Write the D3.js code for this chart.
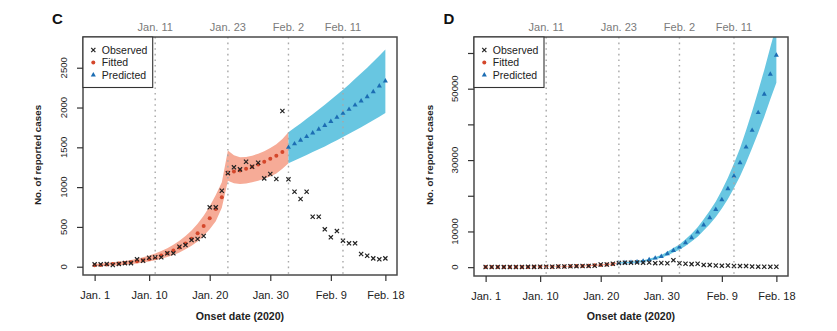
<!DOCTYPE html>
<html>
<head>
<meta charset="utf-8">
<script src="https://cdn.jsdelivr.net/npm/d3@7"></script>
<style>
  body { margin: 0; background: #fff; }
  svg text { font-family: "Liberation Sans", Arial, sans-serif; }
</style>
</head>
<body>
<svg id="chart" width="837" height="331"></svg>
<script>
// x axis: day index from Jan. 1 (0) to Feb. 18 (48)
const xTickDays = [0, 9, 19, 29, 39, 48]
const xTickLabels = ['Jan. 1', 'Jan. 10', 'Jan. 20', 'Jan. 30', 'Feb. 9', 'Feb. 18']
const markDays = [10, 22, 32, 41]
const markLabels = ['Jan. 11', 'Jan. 23', 'Feb. 2', 'Feb. 11']

// observed daily onsets, Jan. 1 .. Feb. 18
const observed = [30, 30, 35, 21, 35, 45, 45, 93, 75, 113, 118, 118, 168, 168, 251, 272, 335, 348, 386, 746,
  746, 955, 1175, 1249, 1223, 1319, 1256, 1306, 1110, 1165, 1102, 1956, 1098, 942, 851, 942, 628, 628, 470, 369,
  448, 327, 294, 294, 160, 138, 105, 93, 105]

// panel C: fitted (from day 0) and predicted (from day 32)
const fittedC = [19, 23, 27, 33, 39, 47, 56, 68, 81, 98, 117, 141, 169, 203, 243, 292, 350, 420, 511, 610,
  725, 872, 1185, 1195, 1210, 1230, 1255, 1285, 1320, 1355, 1395, 1440]
const fitLowC = [5, 8, 11, 15, 20, 26, 33, 42, 53, 66, 82, 100, 122, 148, 180, 218, 263, 318, 390, 470,
  570, 740, 1080, 1050, 1040, 1045, 1060, 1080, 1105, 1135, 1170, 1230, 1300]
const fitHighC = [38, 42, 48, 55, 63, 73, 85, 100, 118, 140, 165, 196, 232, 275, 325, 385, 455, 540, 640, 760,
  900, 1060, 1460, 1400, 1375, 1380, 1395, 1420, 1450, 1490, 1540, 1605, 1690]
const predStartC = 32
const predictedC = [1500, 1544, 1589, 1634, 1680, 1727, 1775, 1825, 1877, 1927, 1977, 2031, 2082, 2136, 2198, 2270, 2333]
const predLowC = [1300, 1335, 1370, 1405, 1440, 1475, 1510, 1550, 1590, 1630, 1670, 1710, 1752, 1795, 1840, 1885, 1930]
const predHighC = [1690, 1745, 1800, 1858, 1916, 1975, 2036, 2098, 2160, 2222, 2290, 2360, 2430, 2500, 2575, 2650, 2730]
const yTicksC = [0, 500, 1000, 1500, 2000, 2500]
const yLabelsC = [0, 500, 1000, 1500, 2000, 2500]

// panel D: fitted (from day 0) and predicted (from day 22)
const fittedD = [19, 23, 27, 33, 39, 47, 56, 68, 81, 98, 117, 141, 169, 203, 243, 292, 350, 420, 511, 610, 725, 872]
const fitLowD = [5, 8, 11, 15, 20, 26, 33, 42, 53, 66, 82, 100, 122, 148, 180, 218, 263, 318, 390, 470, 570, 740, 1040]
const fitHighD = [38, 42, 48, 55, 63, 73, 85, 100, 118, 140, 165, 196, 232, 275, 325, 385, 455, 540, 640, 760, 900, 1060, 1370]
const predStartD = 22
const predictedD = [1200, 1250, 1350, 1500, 1680, 2070, 2520, 3000, 3750, 4680, 5600, 6840, 8240, 9800, 11800,
  13840, 16160, 18880, 21960, 25490, 29240, 33650, 38330, 43300, 48460, 54060, 59380]
const predLowD = [1040, 1090, 1170, 1300, 1460, 1800, 2190, 2610, 3260, 4070, 4870, 5950, 7170, 8530, 10270,
  12040, 14060, 16430, 19100, 22180, 25440, 29280, 33350, 37670, 42160, 47030, 51660]
const predHighD = [1370, 1430, 1540, 1710, 1920, 2360, 2870, 3420, 4280, 5340, 6380, 7800, 9390, 11170, 13450,
  15780, 18420, 21520, 25030, 29060, 33330, 38360, 43700, 49360, 55240, 61630, 67690]
const yTicksD = [0, 10000, 20000, 30000, 40000, 50000, 60000]
const yLabelsD = [0, 10000, 30000, 50000]

const legendNames = ['Observed', 'Fitted', 'Predicted']

const pink = '#f6ab97'
const blue = '#68c6e1'
const red = '#d4472b'
const tri = '#1c6db3'
const ink = '#222'

const svg = d3.select('#chart')

function cross (sel, cx, cy, r) {
  sel.append('path')
    .attr('d', `M${cx - r},${cy - r}L${cx + r},${cy + r}M${cx - r},${cy + r}L${cx + r},${cy - r}`)
    .attr('stroke', ink)
    .attr('stroke-width', 1.2)
    .attr('fill', 'none')
}

const triangle = d3.symbol().type(d3.symbolTriangle).size(11)

function drawPanel (p) {
  const g = svg.append('g')
  const x = d3.scaleLinear().domain([-1.92, 49.92]).range([p.left, p.right])
  const y = d3.scaleLinear().domain(p.yDomain).range([p.bottom, p.top])

  svg.append('clipPath').attr('id', 'clip' + p.letter)
    .append('rect')
    .attr('x', p.left).attr('y', p.top)
    .attr('width', p.right - p.left).attr('height', p.bottom - p.top)

  const plot = g.append('g').attr('clip-path', `url(#clip${p.letter})`)

  const area = d3.area()
    .x(d => x(d.day))
    .y0(d => y(d.lo))
    .y1(d => y(d.hi))

  const fitRows = p.fitLow.map((v, i) => ({ day: i, lo: v, hi: p.fitHigh[i] }))
  const predRows = p.predLow.map((v, i) => ({ day: p.predStart + i, lo: v, hi: p.predHigh[i] }))

  plot.append('path').datum(fitRows).attr('d', area).attr('fill', pink)
  plot.append('path').datum(predRows).attr('d', area).attr('fill', blue)

  // dotted reference dates
  markDays.forEach((d, i) => {
    g.append('line')
      .attr('x1', x(d)).attr('x2', x(d))
      .attr('y1', p.top).attr('y2', p.bottom)
      .attr('stroke', '#a8a8a8')
      .attr('stroke-width', 1.4)
      .attr('stroke-dasharray', '1.6,4')
    g.append('text')
      .attr('x', x(d))
      .attr('y', 31)
      .attr('text-anchor', 'middle')
      .attr('font-size', 11)
      .attr('fill', '#7a7a7a')
      .text(markLabels[i])
  })

  // fitted dots
  plot.selectAll('.fit')
    .data(p.fitted)
    .enter()
    .append('circle')
    .attr('class', 'fit')
    .attr('cx', (d, i) => x(i))
    .attr('cy', d => y(d))
    .attr('r', 2)
    .attr('fill', red)

  // predicted triangles
  plot.selectAll('.pred')
    .data(p.predicted)
    .enter()
    .append('path')
    .attr('class', 'pred')
    .attr('d', triangle)
    .attr('transform', (d, i) => `translate(${x(p.predStart + i)},${y(d)})`)
    .attr('fill', tri)

  // observed crosses
  observed.forEach((v, i) => cross(plot, x(i), y(v), 2.1))

  // frame
  g.append('rect')
    .attr('x', p.left).attr('y', p.top)
    .attr('width', p.right - p.left).attr('height', p.bottom - p.top)
    .attr('fill', 'none')
    .attr('stroke', '#4a4a4a')
    .attr('stroke-width', 1.5)

  // x axis
  const xAxisG = g.append('g')
    .attr('transform', `translate(0,${p.bottom})`)
    .call(d3.axisBottom(x)
      .tickValues(xTickDays)
      .tickFormat((d, i) => xTickLabels[i])
      .tickSize(6)
      .tickPadding(10))
  xAxisG.select('.domain').remove()
  xAxisG.selectAll('line').attr('stroke', '#333').attr('stroke-width', 1.2)
  xAxisG.selectAll('text')
    .attr('font-size', 11)
    .attr('fill', ink)
    .style('font-family', '"Liberation Sans", Arial, sans-serif')

  // y axis, labels rotated as in base R
  const yAxisG = g.append('g')
    .attr('transform', `translate(${p.left},0)`)
    .call(d3.axisLeft(y).tickValues(p.yTicks).tickSize(6).tickFormat(''))
  yAxisG.select('.domain').remove()
  yAxisG.selectAll('line').attr('stroke', '#333').attr('stroke-width', 1.2)

  p.yLabels.forEach(v => {
    g.append('text')
      .attr('transform', `translate(${p.left - 16.5},${y(v)}) rotate(-90)`)
      .attr('text-anchor', 'middle')
      .attr('font-size', 9.6)
      .attr('fill', ink)
      .text(v)
  })

  // titles
  g.append('text')
    .attr('x', (p.left + p.right) / 2)
    .attr('y', 320)
    .attr('text-anchor', 'middle')
    .attr('font-size', 10.6)
    .attr('font-weight', 'bold')
    .attr('fill', ink)
    .text('Onset date (2020)')

  g.append('text')
    .attr('transform', `translate(${p.titleX},155) rotate(-90)`)
    .attr('text-anchor', 'middle')
    .attr('font-size', 9.8)
    .attr('font-weight', 'bold')
    .attr('fill', ink)
    .text('No. of reported cases')

  g.append('text')
    .attr('x', p.letterX)
    .attr('y', 24)
    .attr('text-anchor', 'middle')
    .attr('font-size', 15)
    .attr('font-weight', 'bold')
    .attr('fill', '#111')
    .text(p.letter)

  // legend
  const lg = g.append('g')
  lg.append('rect')
    .attr('x', p.left).attr('y', p.top)
    .attr('width', p.legendW).attr('height', 50.5)
    .attr('fill', '#fff')
    .attr('stroke', '#333')
    .attr('stroke-width', 1.1)
  const sx = p.left + 10.3
  const rows = [50, 62.5, 75]
  cross(lg, sx, rows[0], 2.1)
  lg.append('circle').attr('cx', sx).attr('cy', rows[1]).attr('r', 2).attr('fill', red)
  lg.append('path').attr('d', triangle).attr('transform', `translate(${sx},${rows[2]})`).attr('fill', tri)
  legendNames.forEach((t, i) => {
    lg.append('text')
      .attr('x', p.left + 18.8)
      .attr('y', rows[i] + 3.8)
      .attr('font-size', 10.5)
      .attr('fill', ink)
      .text(t)
  })
}

drawPanel({
  letter: 'C', letterX: 57.5, titleX: 40.5,
  left: 83, right: 397, top: 37, bottom: 275, legendW: 69.7,
  yDomain: [-104, 2886], yTicks: yTicksC, yLabels: yLabelsC,
  fitted: fittedC, fitLow: fitLowC, fitHigh: fitHighC,
  predStart: predStartC, predicted: predictedC, predLow: predLowC, predHigh: predHighC
})

drawPanel({
  letter: 'D', letterX: 449, titleX: 433,
  left: 474, right: 788, top: 37, bottom: 276, legendW: 70,
  yDomain: [-2480, 64480], yTicks: yTicksD, yLabels: yLabelsD,
  fitted: fittedD, fitLow: fitLowD, fitHigh: fitHighD,
  predStart: predStartD, predicted: predictedD, predLow: predLowD, predHigh: predHighD
})
</script>
</body>
</html>
